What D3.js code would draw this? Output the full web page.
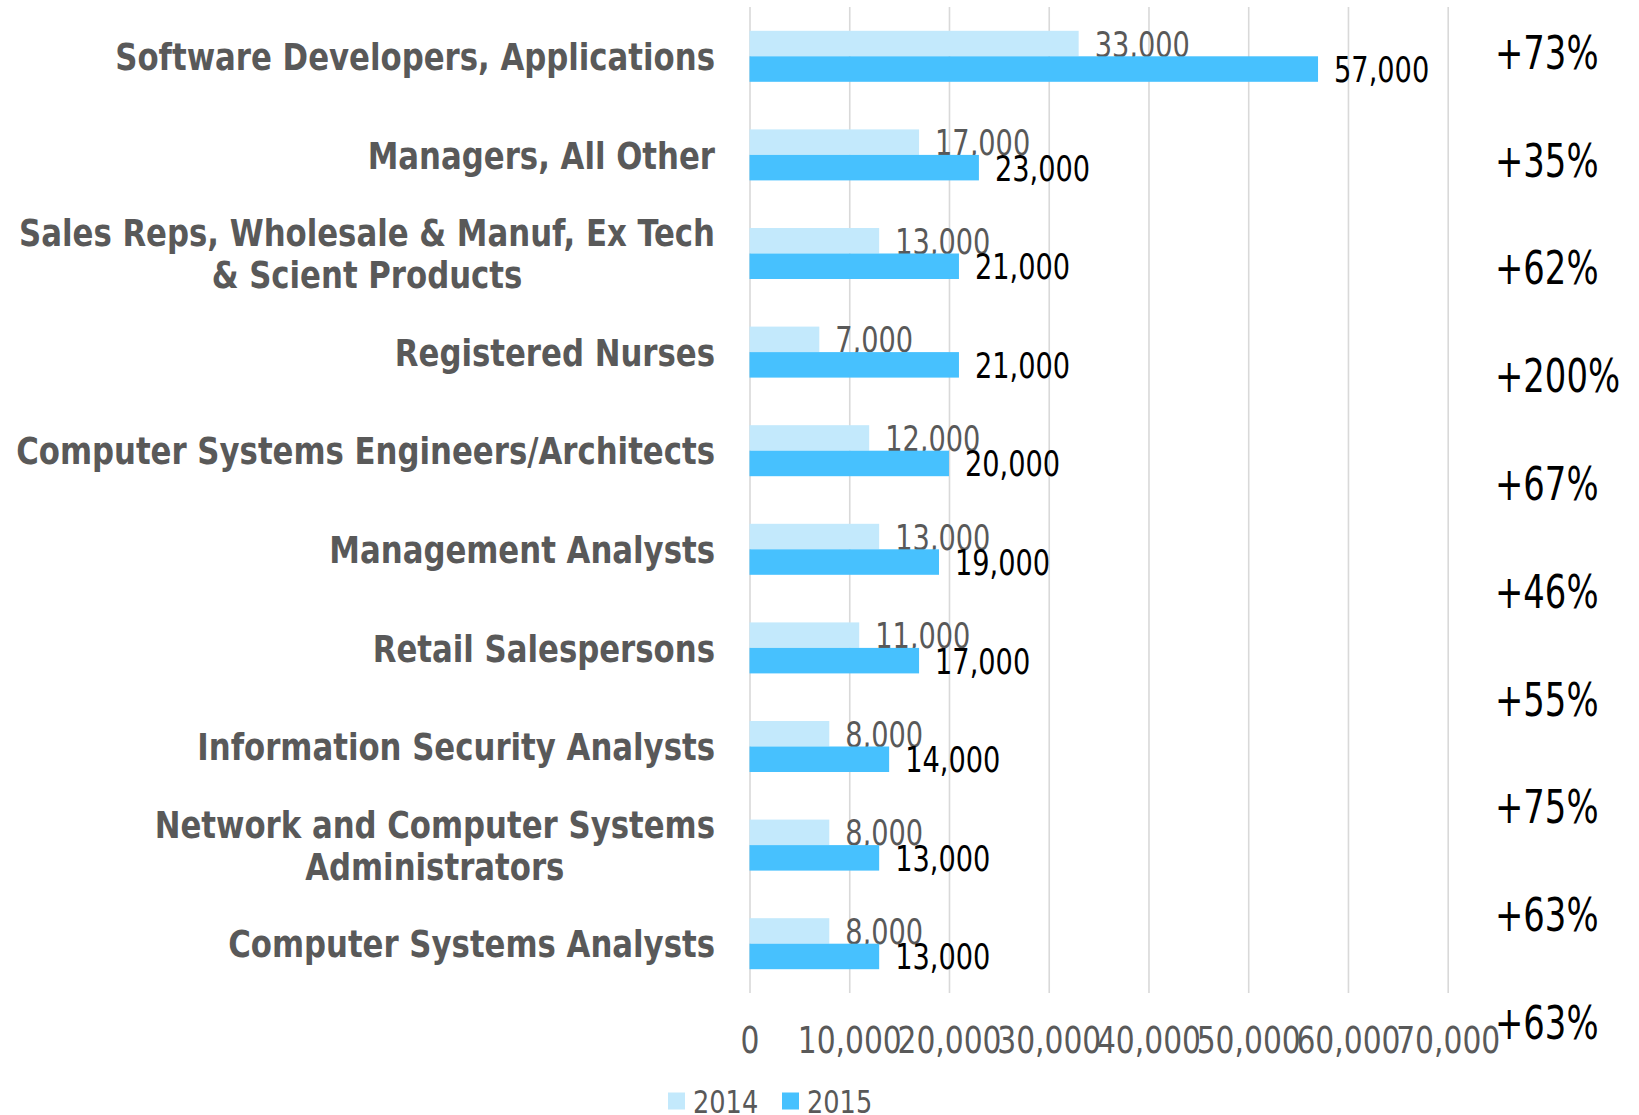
<!DOCTYPE html>
<html lang="en">
<head>
<meta charset="utf-8">
<title>Occupations 2014 vs 2015</title>
<script src="https://cdn.jsdelivr.net/npm/d3@7/dist/d3.min.js"></script>
<style>
  body { margin: 0; background: #fff; }
  text { font-family: "DejaVu Sans Condensed", "DejaVu Sans", sans-serif; }
</style>
</head>
<body>
<div id="chart"></div>
<script>
// data
var categories = [
  "Software Developers, Applications",
  "Managers, All Other",
  "Sales Reps, Wholesale & Manuf, Ex Tech|& Scient Products",
  "Registered Nurses",
  "Computer Systems Engineers/Architects",
  "Management Analysts",
  "Retail Salespersons",
  "Information Security Analysts",
  "Network and Computer Systems|Administrators",
  "Computer Systems Analysts"
];
var values2014 = [33000, 17000, 13000, 7000, 12000, 13000, 11000, 8000, 8000, 8000];
var values2015 = [57000, 23000, 21000, 21000, 20000, 19000, 17000, 14000, 13000, 13000];
var seriesNames = ["2014", "2015"];
var xTicks = [0, 10000, 20000, 30000, 40000, 50000, 60000, 70000];

var W = 1639, H = 1115;
var plotTop = 7, plotBottom = 993, plotLeft = 749.5, plotRight = 1447.7;
var barH = 25.5;
var colors = ["#c3e9fc", "#47c1fe"];
var gray = "#595959";

// the reference uses a narrow face; squash the glyphs horizontally to match
function squeeze(sel, k) {
    sel.each(function() {
        var len = this.getComputedTextLength();
        d3.select(this)
            .attr("textLength", len * k)
            .attr("lengthAdjust", "spacingAndGlyphs");
    });
}

var svg = d3.select("#chart").append("svg")
    .attr("width", W)
    .attr("height", H);

var x = d3.scaleLinear()
    .domain([0, 70000])
    .range([plotLeft, plotRight]);

var y = d3.scaleBand()
    .domain(categories)
    .range([plotTop, plotBottom])
    .padding(0);

// gridlines
var grid = svg.append("g")
    .attr("transform", "translate(0," + plotBottom + ")")
    .call(d3.axisBottom(x).tickValues(xTicks).tickSize(-(plotBottom - plotTop)).tickFormat(""));
grid.select(".domain").remove();
grid.selectAll("line").attr("stroke", "#d9d9d9").attr("stroke-width", 1.6);

// tick labels
var xAxis = svg.append("g")
    .attr("transform", "translate(0,1039)")
    .call(d3.axisBottom(x).tickValues(xTicks).tickSize(0).tickPadding(0).tickFormat(d3.format(",")));
xAxis.select(".domain").remove();
xAxis.selectAll("text")
    .attr("y", 0)
    .attr("dy", "0.36em")
    .style("font-family", "DejaVu Sans Condensed, sans-serif")
    .style("font-size", "38px")
    .attr("fill", gray)
    .call(squeeze, 0.87);

var rows = categories.map(function(c, i) {
    return { cat: c, v: [values2014[i], values2015[i]] };
});

var groups = svg.selectAll(".row")
    .data(rows)
    .enter()
    .append("g")
    .attr("class", "row")
    .attr("transform", function(d) {
        return "translate(0," + (y(d.cat) + y.bandwidth() / 2) + ")";
    });

[0, 1].forEach(function(s) {
    groups.append("rect")
        .attr("x", x(0))
        .attr("y", s === 0 ? -barH : 0)
        .attr("width", function(d) { return x(d.v[s]) - x(0); })
        .attr("height", barH)
        .attr("fill", colors[s]);

    groups.append("text")
        .attr("x", function(d) { return x(d.v[s]) + 16; })
        .attr("y", s === 0 ? -barH / 2 : barH / 2)
        .attr("dy", "0.36em")
        .style("font-size", "36px")
        .attr("fill", s === 0 ? gray : "#000")
        .text(function(d) { return d3.format(",")(d.v[s]); })
        .call(squeeze, 0.84);
});

// category labels (two-line ones centered as a block, right aligned)
var labelK = 0.9;
groups.each(function(d) {
    var g = d3.select(this);
    var lines = d.cat.split("|");
    var t = g.append("text")
        .style("font-size", "38px")
        .style("font-weight", "bold")
        .attr("fill", gray);
    var lineH = 42;
    lines.forEach(function(l, i) {
        t.append("tspan")
            .attr("y", (i - (lines.length - 1) / 2) * lineH)
            .attr("dy", "0.36em")
            .text(l);
    });
    var maxW = 0;
    t.selectAll("tspan").each(function() {
        maxW = Math.max(maxW, this.getComputedTextLength() * labelK);
    });
    t.selectAll("tspan").call(squeeze, labelK);
    t.attr("text-anchor", "middle");
    t.selectAll("tspan").attr("x", 715 - maxW / 2);
});

// percent change labels down the right side
var yPct = d3.scalePoint()
    .domain(categories)
    .range([52, 1022]);

svg.selectAll(".pct")
    .data(rows)
    .enter()
    .append("text")
    .attr("class", "pct")
    .attr("x", 1495)
    .attr("y", function(d) { return yPct(d.cat); })
    .attr("dy", "0.36em")
    .style("font-size", "47px")
    .attr("fill", "#000")
    .text(function(d) { return "+" + Math.round((d.v[1] / d.v[0] - 1) * 100) + "%"; })
    .call(squeeze, 0.8);

// legend
var legend = svg.selectAll(".legend")
    .data(seriesNames)
    .enter()
    .append("g")
    .attr("class", "legend")
    .attr("transform", function(d, i) { return "translate(" + (668 + i * 114) + ",1101)"; });

legend.append("rect")
    .attr("x", 0)
    .attr("y", -8.5)
    .attr("width", 17)
    .attr("height", 17)
    .attr("fill", function(d, i) { return colors[i]; });

legend.append("text")
    .attr("x", 25)
    .attr("y", 0)
    .attr("dy", "0.36em")
    .style("font-size", "32px")
    .attr("fill", gray)
    .text(function(d) { return d; })
    .call(squeeze, 0.89);
</script>
</body>
</html>
